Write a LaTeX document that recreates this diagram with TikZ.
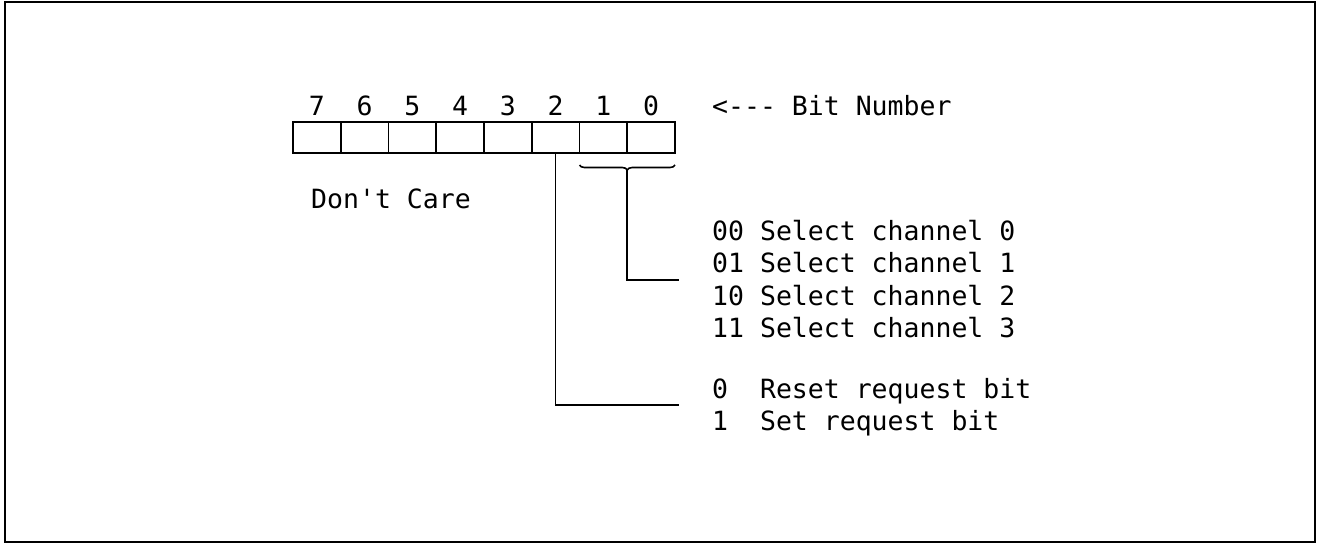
\documentclass[tikz,border=0pt]{standalone}
\usepackage{fontspec}
\setmainfont{DejaVu Sans Mono}[Ligatures=TeXOff]
\usetikzlibrary{decorations.pathreplacing}
\begin{document}
\begin{tikzpicture}[x=1pt,y=-1pt,
  every node/.style={font=\fontsize{26.5}{32}\selectfont},
  cell/.style={draw,line width=1.8pt,minimum width=47.75pt,minimum height=31pt,inner sep=0pt,outer sep=0pt},
  lbl/.style={anchor=base west,inner sep=0pt},
  num/.style={anchor=base,inner sep=0pt},
  conn/.style={line width=1.6pt}]
\useasboundingbox (0,0) rectangle (1317,544);
\draw[line width=2pt] (5,2) rectangle (1315,542);
\foreach \b in {7,...,0}{
  \pgfmathsetmacro{\cx}{293+47.75*(7-\b+0.5)}
  \node[cell] (c\b) at (\cx,137.5) {};
  \node[num] (n\b) at (\cx,115) {\b};
}
\node[lbl] (bitnum) at (712,115) {<--- Bit Number};
\node[lbl] (dc) at (311,208) {Don't Care};
\node[lbl] (s0) at (712,240) {00 Select channel 0};
\node[lbl] (s1) at (712,272) {01 Select channel 1};
\node[lbl] (s2) at (712,305) {10 Select channel 2};
\node[lbl] (s3) at (712,337) {11 Select channel 3};
\node[lbl] (r0) at (712,398) {0~~Reset request bit};
\node[lbl] (r1) at (712,430) {1~~Set request bit};
\coordinate (bl) at ([yshift=-12pt]c1.south west);
\coordinate (br) at ([yshift=-12pt]c0.south east);
\draw[line width=1.6pt,decorate,decoration={brace,mirror,amplitude=5pt}] (bl) -- (br);
\coordinate (bt) at ([yshift=-17pt]c0.south west);
\coordinate (chend) at (679,280);
\coordinate (rqend) at (679,405);
\draw[conn] (bt) |- (chend);
\draw[conn] (c2.south) |- (rqend);
\end{tikzpicture}
\end{document}
